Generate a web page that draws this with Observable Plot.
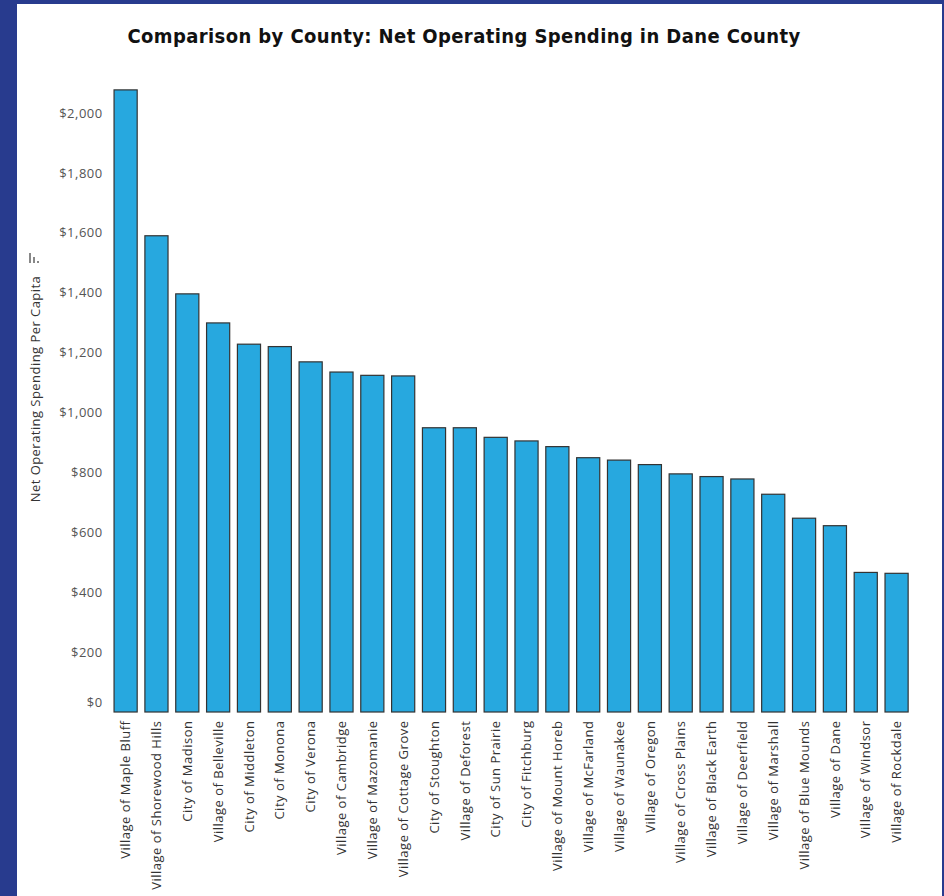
<!DOCTYPE html>
<html>
<head>
<meta charset="utf-8">
<script src="https://cdn.jsdelivr.net/npm/d3@7"></script>
<script src="https://cdn.jsdelivr.net/npm/@observablehq/plot@0.6"></script>
<style>
  body { margin: 0; }
  #frame { position: relative; width: 944px; height: 896px; background: #283b8e; overflow: hidden; }
  #panel { position: absolute; left: 17px; top: 4px; right: 2px; bottom: 0; background: #fff; }
  #chart { position: absolute; left: 0; top: 0; }
  #title { position: absolute; left: 0; width: 928px; top: 24px; text-align: center;
           font-family: "DejaVu Sans Condensed", "DejaVu Sans"; font-stretch: condensed; font-weight: bold; font-size: 20px; letter-spacing: 0.4px; line-height: 24px; color: #111; white-space: nowrap; }
  #ylabel { position: absolute; left: 35px; top: 389px; transform: translate(-50%, -50%) rotate(-90deg);
            font-family: "Open Sans"; font-size: 13px; letter-spacing: 0.45px; color: #333; white-space: nowrap; }
  #icon { position: absolute; left: 29px; top: 252px; width: 11px; height: 11px; }
  #icon span { position: absolute; bottom: 0; width: 2px; background: #888; }
  #chart svg text { letter-spacing: 0.5px; }
</style>
</head>
<body>
<div id="frame">
  <div id="panel"></div>
  <div id="chart"></div>
  <div id="title">Comparison by County: Net Operating Spending in Dane County</div>
  <div id="ylabel">Net Operating Spending Per Capita</div>
  <div id="icon"><span style="left:0;height:10px"></span><span style="left:4px;height:6px"></span><span style="left:8px;height:2px"></span></div>
</div>
<script>
const municipalities = [
  "Village of Maple Bluff", "Village of Shorewood Hills", "City of Madison", "Village of Belleville",
  "City of Middleton", "City of Monona", "City of Verona", "Village of Cambridge",
  "Village of Mazomanie", "Village of Cottage Grove", "City of Stoughton", "Village of Deforest",
  "City of Sun Prairie", "City of Fitchburg", "Village of Mount Horeb", "Village of McFarland",
  "Village of Waunakee", "Village of Oregon", "Village of Cross Plains", "Village of Black Earth",
  "Village of Deerfield", "Village of Marshall", "Village of Blue Mounds", "Village of Dane",
  "Village of Windsor", "Village of Rockdale"
];
const spendingPerCapita = [
  2077, 1590, 1396, 1299,
  1228, 1220, 1169, 1135,
  1124, 1122, 949, 949,
  917, 905, 886, 849,
  841, 826, 795, 786,
  778, 727, 647, 622,
  466, 463
];
const yTicks = [0, 200, 400, 600, 800, 1000, 1200, 1400, 1600, 1800, 2000];

const data = municipalities.map((name, i) => ({name, value: spendingPerCapita[i]}));
const fmt = d => "$" + d3.format(",")(d);

const chart = Plot.plot({
  width: 944,
  height: 896,
  marginLeft: 110.2,
  marginRight: 32,
  marginTop: 83,
  marginBottom: 184,
  style: {background: "transparent", fontFamily: "Open Sans"},
  x: {domain: municipalities, paddingInner: 0.25, paddingOuter: 0.125, round: false, label: null},
  y: {domain: [0, 2100], label: null},
  marks: [
    Plot.barY(data, {x: "name", y: "value", fill: "#27a8df", stroke: "#333", strokeWidth: 1.2}),
    Plot.axisX({tickSize: 0, tickPadding: 8, tickRotate: -90, fontSize: 13, fill: "#333", label: null}),
    Plot.axisY({ticks: yTicks.filter(t => t > 0), tickFormat: fmt, tickSize: 0, tickPadding: 8, fontSize: 13, fill: "#555", label: null}),
    Plot.axisY({ticks: yTicks.filter(t => t === 0), tickFormat: fmt, tickSize: 0, tickPadding: 8, fontSize: 13, fill: "#555", dy: -10, label: null})
  ]
});
document.getElementById("chart").appendChild(chart);
</script>
</body>
</html>
